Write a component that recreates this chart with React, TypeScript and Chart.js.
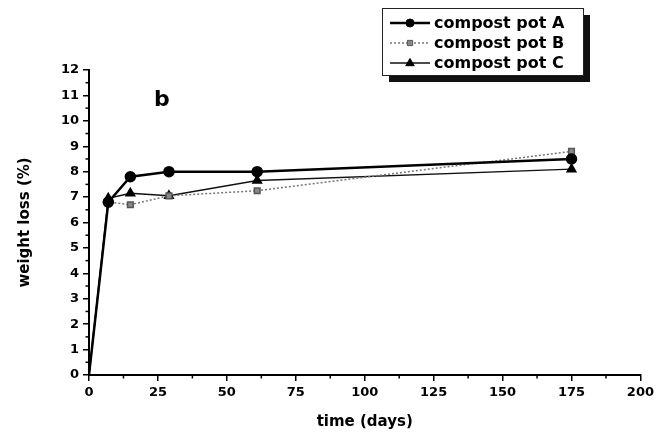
import React, { useEffect, useRef } from "react";
import { Chart, registerables } from "chart.js";

Chart.register(...registerables);

const days = [0, 7, 15, 29, 61, 175];
const potA = [0, 6.8, 7.8, 8.0, 8.0, 8.5];
const potB = [0, 6.8, 6.7, 7.05, 7.25, 8.8];
const potC = [0, 6.95, 7.15, 7.05, 7.65, 8.1];
const seriesLabels = ["compost pot A", "compost pot B", "compost pot C"];
const xTicks = [0, 25, 50, 75, 100, 125, 150, 175, 200];
const yTicks = [0, 1, 2, 3, 4, 5, 6, 7, 8, 9, 10, 11, 12];
const panelLabel = "b";

const FONT = "'DejaVu Sans', 'Liberation Sans', Arial, sans-serif";

const minorTicks = {
  id: "minorTicks",
  afterDraw(chart: any) {
    const ctx = chart.ctx;
    const xs = chart.scales.x;
    const ys = chart.scales.y;
    ctx.save();
    ctx.strokeStyle = "#000";
    ctx.lineWidth = 1.5;
    for (let i = 0; i < xTicks.length - 1; i++) {
      const v = (xTicks[i] + xTicks[i + 1]) / 2;
      const px = xs.getPixelForValue(v);
      ctx.beginPath();
      ctx.moveTo(px, ys.bottom);
      ctx.lineTo(px, ys.bottom + 3.5);
      ctx.stroke();
    }
    for (let i = 0; i < yTicks.length - 1; i++) {
      const v = (yTicks[i] + yTicks[i + 1]) / 2;
      const py = ys.getPixelForValue(v);
      ctx.beginPath();
      ctx.moveTo(xs.left, py);
      ctx.lineTo(xs.left - 3.5, py);
      ctx.stroke();
    }
    ctx.restore();
  },
};

const customLegend = {
  id: "customLegend",
  afterDraw(chart: any) {
    const ctx = chart.ctx;
    const bx = 382, by = 8, bw = 201, bh = 67;
    ctx.save();
    ctx.fillStyle = "#111";
    ctx.fillRect(bx + 7, by + 7, bw, bh);
    ctx.fillStyle = "#fff";
    ctx.fillRect(bx, by, bw, bh);
    ctx.strokeStyle = "#222";
    ctx.lineWidth = 1;
    ctx.strokeRect(bx + 0.5, by + 0.5, bw, bh);
    const rows = [23, 43, 63];
    chart.data.datasets.forEach((ds: any, i: number) => {
      const y = rows[i];
      const x0 = bx + 8, x1 = bx + 48;
      ctx.save();
      ctx.strokeStyle = ds.borderColor;
      ctx.lineWidth = ds.borderWidth;
      ctx.setLineDash(ds.borderDash || []);
      ctx.beginPath();
      ctx.moveTo(x0, y);
      ctx.lineTo(x1, y);
      ctx.stroke();
      ctx.restore();
      ctx.save();
      ctx.fillStyle = ds.pointBackgroundColor;
      ctx.strokeStyle = ds.pointBorderColor;
      ctx.lineWidth = 1;
      const r = ds.legendRadius;
      const cx = (x0 + x1) / 2;
      ctx.beginPath();
      if (ds.pointStyle === "circle") {
        ctx.arc(cx, y, r, 0, Math.PI * 2);
      } else if (ds.pointStyle === "triangle") {
        ctx.moveTo(cx, y - r);
        ctx.lineTo(cx + r * 0.95, y + r * 0.6);
        ctx.lineTo(cx - r * 0.95, y + r * 0.6);
        ctx.closePath();
      } else {
        ctx.rect(cx - r * 0.75, y - r * 0.75, r * 1.5, r * 1.5);
      }
      ctx.fill();
      ctx.stroke();
      ctx.restore();
      ctx.fillStyle = "#000";
      ctx.font = `bold 16px ${FONT}`;
      ctx.textBaseline = "middle";
      ctx.textAlign = "left";
      ctx.fillText(ds.label, x1 + 4, y + 1);
    });
    ctx.font = `bold 22px ${FONT}`;
    ctx.fillStyle = "#000";
    ctx.textAlign = "left";
    ctx.textBaseline = "middle";
    ctx.fillText(panelLabel, 154, 100);
    ctx.restore();
  },
};

export default function App() {
  const ref = useRef<HTMLCanvasElement | null>(null);
  useEffect(() => {
    if (!ref.current) return;
    const mk = (v: number[]) => v.map((y, i) => ({ x: days[i], y }));
    const hideFirst = (r: number) => (c: any) => (c.dataIndex === 0 ? 0 : r);
    const chart = new Chart(ref.current, {
      type: "line",
      data: {
        datasets: [
          {
            label: seriesLabels[0],
            data: mk(potA),
            borderColor: "#000",
            borderWidth: 2.5,
            pointStyle: "circle",
            pointRadius: hideFirst(4.5),
            legendRadius: 4,
            pointBackgroundColor: "#000",
            pointBorderColor: "#000",
            tension: 0,
          } as any,
          {
            label: seriesLabels[1],
            data: mk(potB),
            borderColor: "#777",
            borderWidth: 1.5,
            borderDash: [2, 2],
            pointStyle: "rect",
            pointRadius: hideFirst(4),
            legendRadius: 3.5,
            pointBackgroundColor: "#888",
            pointBorderColor: "#555",
            tension: 0,
          } as any,
          {
            label: seriesLabels[2],
            data: mk(potC),
            borderColor: "#111",
            borderWidth: 1.5,
            pointStyle: "triangle",
            pointRadius: hideFirst(5),
            legendRadius: 4.5,
            pointBackgroundColor: "#000",
            pointBorderColor: "#000",
            tension: 0,
          } as any,
        ],
      },
      options: {
        animation: false,
        responsive: false,
        layout: { padding: { left: 0, top: 70, right: 14, bottom: 0 } },
        plugins: { legend: { display: false }, tooltip: { enabled: false } },
        scales: {
          x: {
            type: "linear",
            min: 0,
            max: 200,
            afterFit: (s: any) => { s.height = 58; },
            afterBuildTicks: (s: any) => { s.ticks = xTicks.map((v) => ({ value: v })); },
            ticks: {
              color: "#000",
              font: { family: FONT, size: 13, weight: "bold" },
              padding: 4,
              maxRotation: 0,
            },
            grid: { display: true, drawOnChartArea: false, drawTicks: true, tickLength: 6, color: "#000", lineWidth: 1.5 },
            border: { display: true, color: "#000", width: 2 },
            title: {
              display: true,
              text: "time (days)",
              color: "#000",
              font: { family: FONT, size: 15, weight: "bold" },
              padding: { top: 0, bottom: 2 },
            },
          },
          y: {
            type: "linear",
            min: 0,
            max: 12,
            afterFit: (s: any) => { s.width = 89; },
            afterBuildTicks: (s: any) => { s.ticks = yTicks.map((v) => ({ value: v })); },
            ticks: {
              color: "#000",
              font: { family: FONT, size: 13, weight: "bold" },
              padding: 4,
            },
            grid: { display: true, drawOnChartArea: false, drawTicks: true, tickLength: 6, color: "#000", lineWidth: 1.5 },
            border: { display: true, color: "#000", width: 2 },
            title: {
              display: true,
              text: "weight loss (%)",
              color: "#000",
              font: { family: FONT, size: 15, weight: "bold" },
              padding: { top: 16, bottom: 0 },
            },
          },
        },
      },
      plugins: [minorTicks, customLegend],
    });
    return () => chart.destroy();
  }, []);
  return (
    <div style={{ position: "absolute", left: 0, top: 0, width: 658, height: 433, background: "#fff" }}>
      <canvas ref={ref} width={658} height={433} style={{ display: "block" }} />
    </div>
  );
}
